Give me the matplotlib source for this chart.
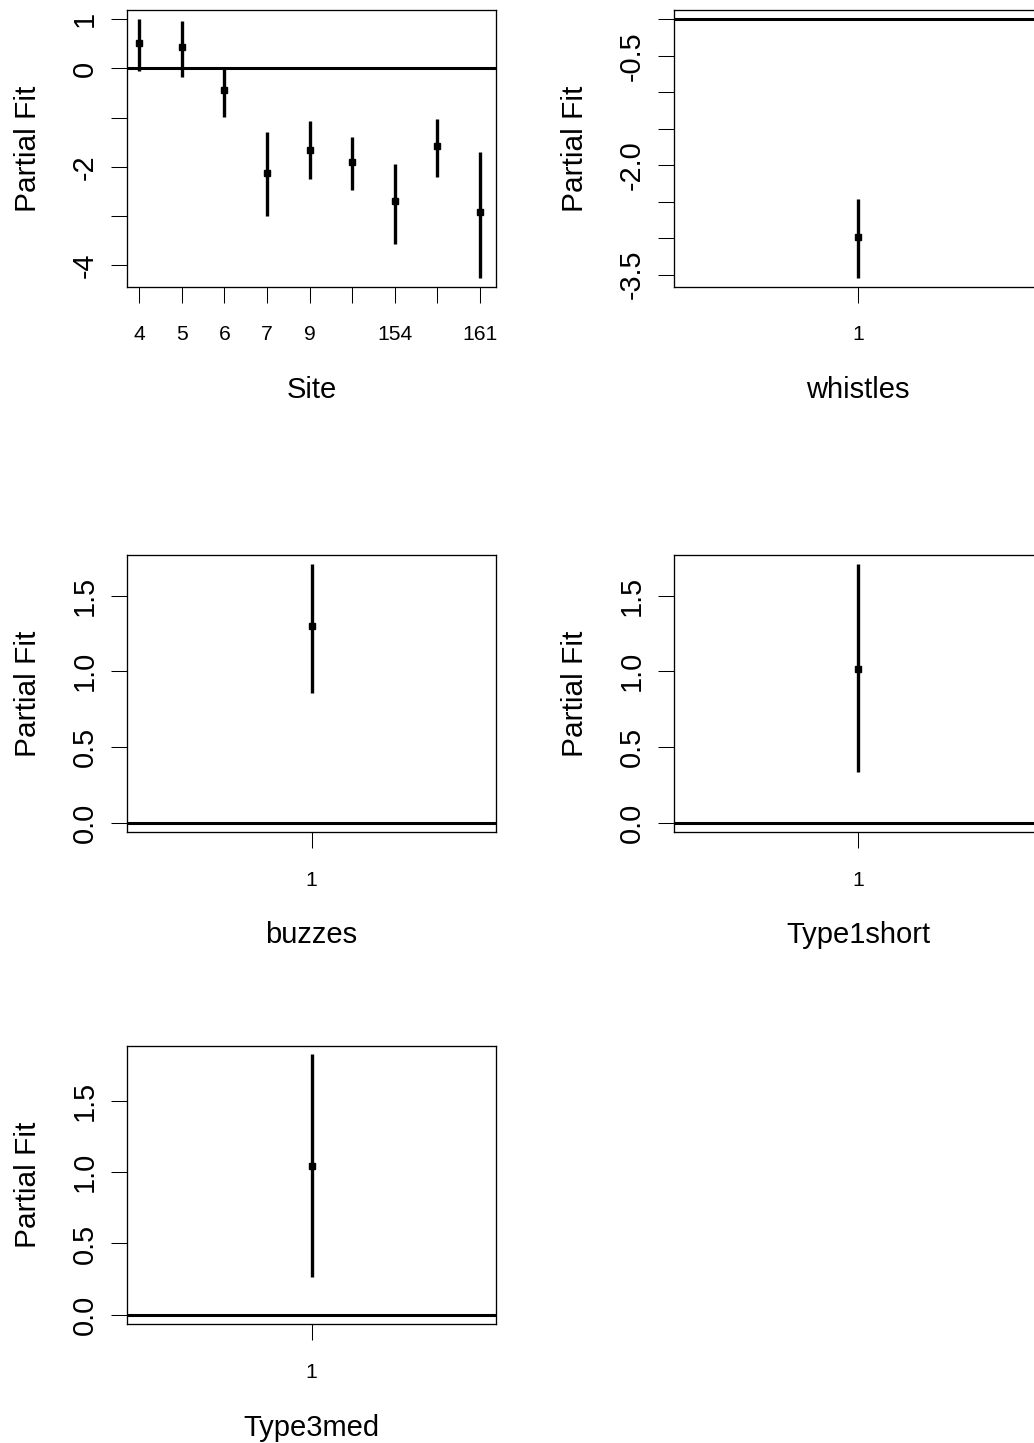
import numpy as np
import matplotlib
matplotlib.use("Agg")
import matplotlib.pyplot as plt

plt.rcParams['font.family'] = ['Liberation Sans', 'DejaVu Sans']

# Site term (factor levels, fitted partial effect and interval ends)
site_labels = ["4", "5", "6", "7", "9", "", "154", "", "161"]
site_fit = [0.51, 0.43, -0.43, -2.13, -1.65, -1.91, -2.69, -1.57, -2.91]
site_lo = [-0.05, -0.17, -0.98, -3.01, -2.25, -2.47, -3.58, -2.21, -4.27]
site_hi = [1.00, 0.97, 0.00, -1.29, -1.06, -1.40, -1.95, -1.03, -1.69]
site_yticks = [-4, -3, -2, -1, 0, 1]
site_ylabels = ["-4", "", "-2", "", "0", "1"]

whistles_fit = [-2.99]
whistles_lo = [-3.55]
whistles_hi = [-2.47]
whistles_yticks = [-3.5, -3.0, -2.5, -2.0, -1.5, -1.0, -0.5, 0.0]
whistles_ylabels = ["-3.5", "", "", "-2.0", "", "", "-0.5", ""]

buzzes_fit = [1.30]
buzzes_lo = [0.86]
buzzes_hi = [1.71]

type1short_fit = [1.015]
type1short_lo = [0.333]
type1short_hi = [1.709]

type3med_fit = [1.044]
type3med_lo = [0.262]
type3med_hi = [1.828]

pos_yticks = [0.0, 0.5, 1.0, 1.5]
pos_ylabels = ["0.0", "0.5", "1.0", "1.5"]

W, H = 1034, 1443


def rect(x0, y0, x1, y1):
    return [x0 / W, 1 - y1 / H, (x1 - x0) / W, (y1 - y0) / H]


def partial_plot(ax, fit, lo, hi, xlabels, xlabel, yticks, ylabels, ylim, xlim):
    x = np.arange(1, len(fit) + 1)
    ax.axhline(0, color='black', lw=2.2, zorder=1)
    ax.vlines(x, lo, hi, color='black', lw=2.4, zorder=2)
    ax.plot(x, fit, 's', color='black', ms=4.3, zorder=3)
    ax.set_xlim(*xlim)
    ax.set_ylim(*ylim)
    ax.set_xticks(x, xlabels, fontsize=15.2)
    ax.set_yticks(yticks, ylabels, fontsize=20.8, rotation=90, va='center')
    ax.tick_params(axis='both', direction='out', length=11.3, width=0.75, colors='black')
    ax.tick_params(axis='x', pad=16.3)
    ax.tick_params(axis='y', pad=8.9)
    for s in ax.spines.values():
        s.set_linewidth(0.95)
    ax.set_xlabel(xlabel, fontsize=21, va='baseline')
    ax.set_ylabel("Partial Fit", fontsize=21.5, va='baseline')
    ax.xaxis.set_label_coords(0.5, -0.4007)
    ax.yaxis.set_label_coords(-0.2478, 0.5)


fig = plt.figure(figsize=(W / 100, H / 100), dpi=100)

ax1 = fig.add_axes(rect(127.3, 10, 495.7, 286.7))
partial_plot(ax1, site_fit, site_lo, site_hi, site_labels, "Site",
             site_yticks, site_ylabels, (-4.44, 1.19), (0.72, 9.37))

ax2 = fig.add_axes(rect(674, 10, 1042.4, 286.7))
partial_plot(ax2, whistles_fit, whistles_lo, whistles_hi, ["1"], "whistles",
             whistles_yticks, whistles_ylabels, (-3.667, 0.128), (0.5, 1.5))

ax3 = fig.add_axes(rect(127.3, 555, 495.7, 832.3))
partial_plot(ax3, buzzes_fit, buzzes_lo, buzzes_hi, ["1"], "buzzes",
             pos_yticks, pos_ylabels, (-0.064, 1.769), (0.5, 1.5))

ax4 = fig.add_axes(rect(674, 555, 1042.4, 832.3))
partial_plot(ax4, type1short_fit, type1short_lo, type1short_hi, ["1"], "Type1short",
             pos_yticks, pos_ylabels, (-0.064, 1.769), (0.5, 1.5))

ax5 = fig.add_axes(rect(127.3, 1045.7, 495.7, 1324.3))
partial_plot(ax5, type3med_fit, type3med_lo, type3med_hi, ["1"], "Type3med",
             pos_yticks, pos_ylabels, (-0.068, 1.889), (0.5, 1.5))

fig.savefig("out.png", dpi=100)
